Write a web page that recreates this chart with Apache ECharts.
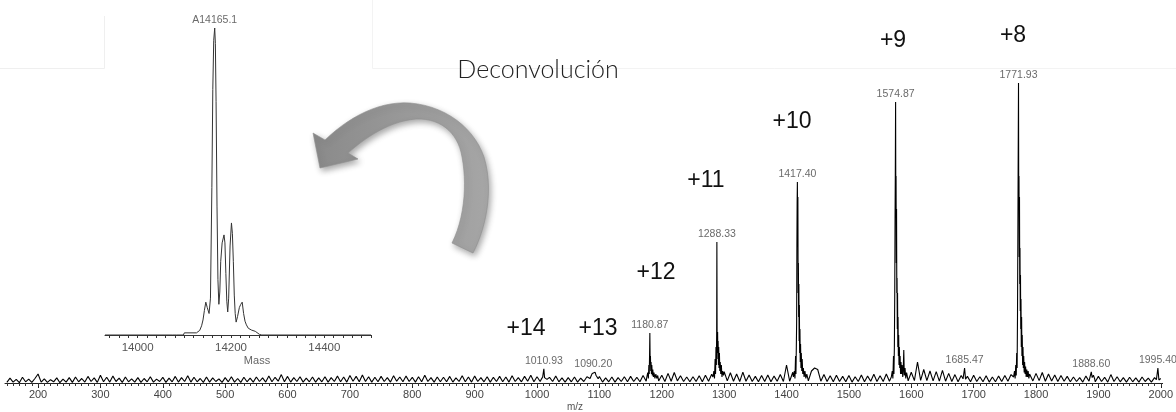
<!DOCTYPE html>
<html>
<head>
<meta charset="utf-8">
<script src="https://cdn.jsdelivr.net/npm/echarts@6/dist/echarts.min.js"></script>
<style>html,body{margin:0;padding:0;background:#fff;}#c{width:1176px;height:412px;}</style>
</head>
<body>
<div id="c"></div>
<script>
// ---- Main spectrum (m/z vs relative intensity, % of base peak) ----
const noiseStart = 150;   // m/z of first noise sample
const noiseStep = 5;      // m/z between noise samples
const noise = [
0.2,1.6,0.3,1.2,0.1,1.9,0.4,1.3,0.2,1.5,3.0,0.3,1.4,0.2,1.1,0.4,1.7,0.1,1.3,0.3,
1.8,0.2,2.0,0.4,1.5,0.3,2.2,0.5,1.7,0.2,2.6,0.4,1.9,0.3,2.3,0.5,1.6,0.2,2.0,0.4,
1.4,0.3,1.8,0.2,1.5,0.4,2.1,0.3,1.3,0.5,1.9,0.2,1.6,0.4,2.2,0.3,1.8,0.5,2.4,0.3,
1.9,0.4,1.5,0.2,2.0,0.3,1.7,0.5,1.4,0.2,1.8,0.4,2.1,0.3,1.5,0.2,1.9,0.4,1.6,0.3,
2.0,0.5,1.7,0.3,2.3,0.4,1.9,0.6,2.8,0.4,2.2,0.3,1.8,0.5,2.1,0.3,1.6,0.4,2.0,0.3,
1.7,0.4,2.1,0.3,1.8,0.5,2.3,0.4,2.0,0.3,2.5,0.6,2.2,0.4,2.7,0.5,2.1,0.3,1.9,0.4,
2.2,0.5,1.8,0.3,2.4,0.6,2.0,0.4,2.3,0.5,1.9,0.3,2.1,0.4,2.6,0.5,1.8,0.3,2.0,0.4,
1.9,0.4,2.2,0.3,1.7,0.5,2.4,0.4,2.0,0.3,2.3,0.5,1.8,0.4,2.1,0.3,1.9,0.5,2.2,0.4,
2.0,0.3,2.4,0.5,1.8,0.4,2.2,0.6,2.6,0.4,2.1,0.5,2.8,0.3,1.9,0.5,2.3,0.4,1.7,0.3,
1.8,0.4,2.0,0.3,1.6,0.5,2.1,0.4,2.4,0.6,2.2,0.3,1.7,0.4,2.0,0.3,1.8,0.5,2.1,0.4,
2.2,0.5,1.9,0.4,2.5,0.6,2.3,0.5,2.9,0.7,2.6,0.5,3.2,0.6,3.5,0.7,2.4,0.5,2.0,0.4,
2.1,0.5,2.4,0.4,2.6,0.6,2.9,0.7,3.3,0.8,3.8,0.7,3.4,0.6,3.0,0.5,3.6,0.6,2.7,0.5,
2.2,0.4,2.5,0.5,2.7,0.4,2.3,0.6,2.8,0.5,6.0,0.6,3.6,0.7,3.0,0.6,3.5,0.7,4.0,5.0,
4.5,0.6,2.8,0.5,2.4,0.4,2.6,0.5,2.2,0.4,2.5,0.3,2.1,0.5,2.7,0.4,2.3,0.6,2.9,0.5,
2.4,0.5,3.0,0.6,3.2,0.7,3.5,0.8,3.0,0.7,3.6,0.8,7.0,0.9,4.5,0.8,4.0,0.7,3.8,0.6,
4.2,0.6,3.2,0.5,2.8,0.4,2.5,0.5,2.2,0.4,2.6,0.5,2.1,0.4,2.4,0.3,2.0,0.4,2.3,0.5,
2.5,0.6,2.8,0.5,3.0,0.7,3.4,0.8,3.6,0.7,3.2,0.8,3.5,0.6,3.0,0.7,2.7,0.5,2.5,0.6,
2.2,0.4,2.0,0.5,1.8,0.3,2.3,0.6,2.6,0.4,2.2,0.5,1.9,0.3,2.8,0.5,2.1,0.4,1.8,0.3,
1.9,0.4,1.7,0.3,2.0,0.5,1.6,0.3,1.8,0.4,1.5
];
const peak14 = [[1007,1.3],[1009,2.0],[1010.93,4.7],[1012,1.8],[1014,2.4],[1016,1.2]];
const peak13 = [[1085,1.5],[1087,2.5],[1088.5,3.2],[1090.2,3.8],[1091.5,3.3],[1093,3.6],[1094.5,2.6],[1096,2.0],[1098,1.4]];
const peak12 = [[1176,2],[1177.5,3.5],[1178.5,1.5],[1179.3,6],[1179.9,3],[1180.4,9],[1180.87,16.7],[1181.3,8],[1181.8,9],[1182.3,4],[1182.8,7],[1183.4,3],[1184,6],[1184.8,2.5],[1185.6,4.5],[1186.5,2],[1187.5,3.5],[1189,1.5],[1190.5,3],[1192,1.5],[1193.5,2.5]];
const peak11 = [[1282,2],[1283.5,4],[1284.5,1.5],[1285.5,8],[1286.2,3],[1286.9,12],[1287.5,6],[1288,17],[1288.33,47],[1288.7,17],[1289.1,10],[1289.5,17],[1289.9,8],[1290.3,14],[1290.8,6],[1291.3,12],[1291.8,5],[1292.4,10],[1293,4],[1293.7,7],[1294.5,3],[1295.5,6],[1296.5,2],[1297.5,4],[1299,2.5]];
const peak10 = [[1411,2],[1412.5,4],[1413.5,1.5],[1414.5,9],[1415.1,3],[1415.7,12],[1416.2,20],[1416.6,45],[1417,60],[1417.4,67],[1417.8,50],[1418.2,62],[1418.6,30],[1419,40],[1419.4,22],[1419.8,33],[1420.2,14],[1420.6,26],[1421,10],[1421.5,18],[1422,7],[1422.5,13],[1423.1,5],[1423.7,10],[1424.4,4],[1425.1,8],[1426,3],[1427,5],[1428.2,2],[1429.5,4],[1431,1.5],[1432.5,3]];
const peak9 = [[1568,2],[1569.5,4],[1570.5,1.5],[1571.5,9],[1572.2,3],[1572.9,12],[1573.5,30],[1574,55],[1574.4,69],[1574.87,93.7],[1575.2,60],[1575.6,69],[1576,40],[1576.4,58],[1576.8,30],[1577.2,35],[1577.6,18],[1578,30],[1578.4,12],[1578.8,22],[1579.3,9],[1579.8,16],[1580.3,6],[1580.9,12],[1581.5,5],[1582.1,9],[1582.8,3],[1583.5,7],[1584.4,3],[1585.3,6],[1586.3,2],[1587.2,5],[1588,11],[1588.8,2.5],[1590,5],[1591.2,1.5],[1592.5,3.5]];
const peak1685 = [[1683,1.4],[1685.47,5.0],[1687,1.3]];
const peak8 = [[1764,2],[1765.5,4],[1766.5,1.5],[1767.5,6],[1768.3,2.5],[1769,10],[1769.7,5],[1770.3,22],[1770.8,45],[1771.3,69],[1771.93,100],[1772.3,60],[1772.7,69],[1773.1,42],[1773.5,62],[1773.9,33],[1774.3,45],[1774.7,24],[1775.1,36],[1775.5,18],[1775.9,28],[1776.4,12],[1776.9,22],[1777.4,9],[1777.9,16],[1778.5,6],[1779.1,12],[1779.7,5],[1780.3,9],[1781,3.5],[1781.7,7],[1782.5,3],[1783.3,5.5],[1784.2,2],[1785.2,4.5],[1786.3,2],[1787.4,4],[1788.5,1.5],[1789.7,3]];
const peak1888 = [[1886,1.5],[1888.6,3.7],[1890,1.8],[1892,2.6],[1894,1.4]];
const peak1995 = [[1993,1.1],[1995.4,5.0],[1997,1.0]];
const labeledPeaks = [[1010.93,4.7],[1090.20,3.8],[1180.87,16.7],[1288.33,47],[1417.40,67],[1574.87,93.7],[1685.47,5.0],[1771.93,100],[1888.60,3.7],[1995.40,5.0]];
const mzTickLabels = [200,300,400,500,600,700,800,900,1000,1100,1200,1300,1400,1500,1600,1700,1800,1900,2000];

// ---- Deconvoluted inset (mass vs relative intensity) ----
const deconv = [[13930,0],[14075,0],[14079,0.6],[14083,0],[14098,0],[14100,0.7],[14126,0.7],[14130,0.5],[14133,1.5],[14137,3],[14140,4.9],[14143,8],[14146,10.7],[14149,9],[14153,7],[14156,12],[14159,48],[14161,80],[14163,96],[14165.1,100],[14166.5,95],[14168,76],[14170,42],[14172,18],[14174,10],[14176,14],[14178,24],[14181,30],[14185,32.6],[14187,30],[14189,20],[14191,11],[14193,7.5],[14195,12],[14198,29],[14201,36.5],[14203,33],[14205,24],[14207,13],[14209,7],[14211,4.2],[14214,6],[14218,9],[14221,10],[14224,10.7],[14227,7],[14230,4.5],[14233,3.3],[14237,2.2],[14240,2.6],[14244,1.6],[14248,2.2],[14252,1.2],[14256,1.0],[14261,0.2],[14266,0],[14500,0]];
const deconvTip = [[14165.1,100]];
const massTickLabels = [14000,14200,14400];

// build spectrum: noise samples outside peak windows + peak clusters
const peakSets = [peak14,peak13,peak12,peak11,peak10,peak9,peak1685,peak8,peak1888,peak1995];
const windows = peakSets.map(p => [p[0][0], p[p.length-1][0]]);
let spectrum = noise.map((v,i) => [noiseStart + i*noiseStep, v])
  .filter(pt => !windows.some(w => pt[0] >= w[0] && pt[0] <= w[1]));
peakSets.forEach(p => { spectrum = spectrum.concat(p); });
spectrum.sort((a,b) => a[0]-b[0]);

const minorMz = []; for (let v = 150; v <= 2000; v += 10) minorMz.push(v);
const minorMass = []; for (let v = 13940; v <= 14500; v += 20) minorMass.push(v);

// curved arrow outline (decoration), sampled from cubic Bezier segments
function bez(p0,p1,p2,p3,n){const out=[];for(let i=1;i<=n;i++){const t=i/n,u=1-t;out.push([u*u*u*p0[0]+3*u*u*t*p1[0]+3*u*t*t*p2[0]+t*t*t*p3[0],u*u*u*p0[1]+3*u*u*t*p1[1]+3*u*t*t*p2[1]+t*t*t*p3[1]]);}return out;}
let arrow = [[473,253]];
arrow = arrow.concat(bez([473,253],[486,228],[494,190],[484,157],14));
arrow = arrow.concat(bez([484,157],[474,128],[446,106],[410,103],14));
arrow = arrow.concat(bez([410,103],[380,101],[350,116],[325,140],14));
arrow.push([313,133],[320,168],[358,159],[348,153]);
arrow = arrow.concat(bez([348,153],[366,137],[390,121],[416,119],14));
arrow = arrow.concat(bez([416,119],[440,118],[456,132],[461,152],14));
arrow = arrow.concat(bez([461,152],[467,178],[466,215],[452,243],14));

const chart = echarts.init(document.getElementById('c'), null, {renderer:'canvas'});
const narrow = "'Liberation Sans Narrow','Liberation Sans',Arial,sans-serif";
const sans = "'Liberation Sans',Arial,sans-serif";
const chargeFont = "23px 'Liberation Sans', Arial, sans-serif";
function txt(x,y,text,font,fill){return {type:'text', silent:true, z:10, x:x, y:y, style:{text:text, font:font, fill:fill, textAlign:'center', textVerticalAlign:'middle'}};}
const plain = v => String(v);

chart.setOption({
  backgroundColor: '#ffffff',
  animation: false,
  grid: [
    {left: 5, right: 9, top: 83, bottom: 29},
    {left: 105, width: 266, top: 28, height: 307}
  ],
  xAxis: [
    {type:'value', gridIndex:0, position:'bottom', min:147, max:2003,
     axisLine:{show:true, lineStyle:{color:'#222', width:1}},
     axisTick:{show:true, customValues: mzTickLabels, length:5, lineStyle:{color:'#222'}},
     axisLabel:{show:true, customValues: mzTickLabels, formatter: plain, fontSize:11, fontFamily:narrow, color:'#444', margin:6},
     splitLine:{show:false}},
    {type:'value', gridIndex:0, position:'bottom', min:147, max:2003,
     axisLine:{show:false},
     axisTick:{show:true, customValues: minorMz, length:3, lineStyle:{color:'#333'}},
     axisLabel:{show:false}, splitLine:{show:false}},
    {type:'value', gridIndex:1, position:'bottom', min:13930, max:14500,
     axisLine:{show:true, lineStyle:{color:'#333', width:1}},
     axisTick:{show:true, customValues: minorMass, length:3, lineStyle:{color:'#333'}},
     axisLabel:{show:true, customValues: massTickLabels, formatter: plain, fontSize:11.5, fontFamily:narrow, color:'#555', margin:7},
     splitLine:{show:false}}
  ],
  yAxis: [
    {type:'value', gridIndex:0, min:0, max:100, show:false},
    {type:'value', gridIndex:1, min:0, max:100, show:false}
  ],
  series: [
    {type:'line', xAxisIndex:0, yAxisIndex:0, data: spectrum, showSymbol:false, symbol:'none',
     clip:false, lineStyle:{color:'#000', width:1.1}, silent:true, z:2},
    {type:'scatter', xAxisIndex:0, yAxisIndex:0, data: labeledPeaks, symbolSize:0, silent:true,
     label:{show:true, position:'top', distance:2, fontSize:10.5, fontFamily:sans, color:'#444',
            formatter: p => p.value[0].toFixed(2)}},
    {type:'line', xAxisIndex:2, yAxisIndex:1, data: deconv, showSymbol:false, symbol:'none',
     clip:false, lineStyle:{color:'#333', width:1}, silent:true, z:2},
    {type:'scatter', xAxisIndex:2, yAxisIndex:1, data: deconvTip, symbolSize:0, silent:true,
     label:{show:true, position:'top', distance:2, fontSize:10.5, fontFamily:sans, color:'#444',
            formatter: p => 'A' + p.value[0].toFixed(1)}}
  ],
  graphic: [
    {type:'polyline', silent:true, z:0, shape:{points:[[0,68.5],[104.5,68.5],[104.5,16]]}, style:{stroke:'#efefef', lineWidth:1, fill:null}},
    {type:'polyline', silent:true, z:0, shape:{points:[[372.5,0],[372.5,68.5],[1176,68.5]]}, style:{stroke:'#f3f3f3', lineWidth:1, fill:null}},
    {type:'polygon', silent:true, z:10, shape:{points: arrow},
     style:{fill:{type:'linear', x:0, y:0, x2:1, y2:0, colorStops:[{offset:0,color:'#8a8a8a'},{offset:1,color:'#a6a6a6'}]},
            stroke:'#8f8f8f', lineWidth:0.6, shadowBlur:6, shadowColor:'rgba(0,0,0,0.35)', shadowOffsetX:2, shadowOffsetY:3}},
    txt(538,70,'Deconvolución',"300 25px Lato, 'Open Sans', sans-serif",'#222'),
    txt(526,329,'+14',chargeFont,'#111'),
    txt(598,329,'+13',chargeFont,'#111'),
    txt(656,273,'+12',chargeFont,'#111'),
    txt(706,181,'+11',chargeFont,'#111'),
    txt(792,122,'+10',chargeFont,'#111'),
    txt(893,41,'+9',chargeFont,'#111'),
    txt(1013,36,'+8',chargeFont,'#111'),
    txt(575,407,'m/z',"10px 'Liberation Sans', Arial, sans-serif",'#555'),
    txt(257,361,'Mass',"11px 'Liberation Sans', Arial, sans-serif",'#666')
  ]
});
</script>
</body>
</html>
